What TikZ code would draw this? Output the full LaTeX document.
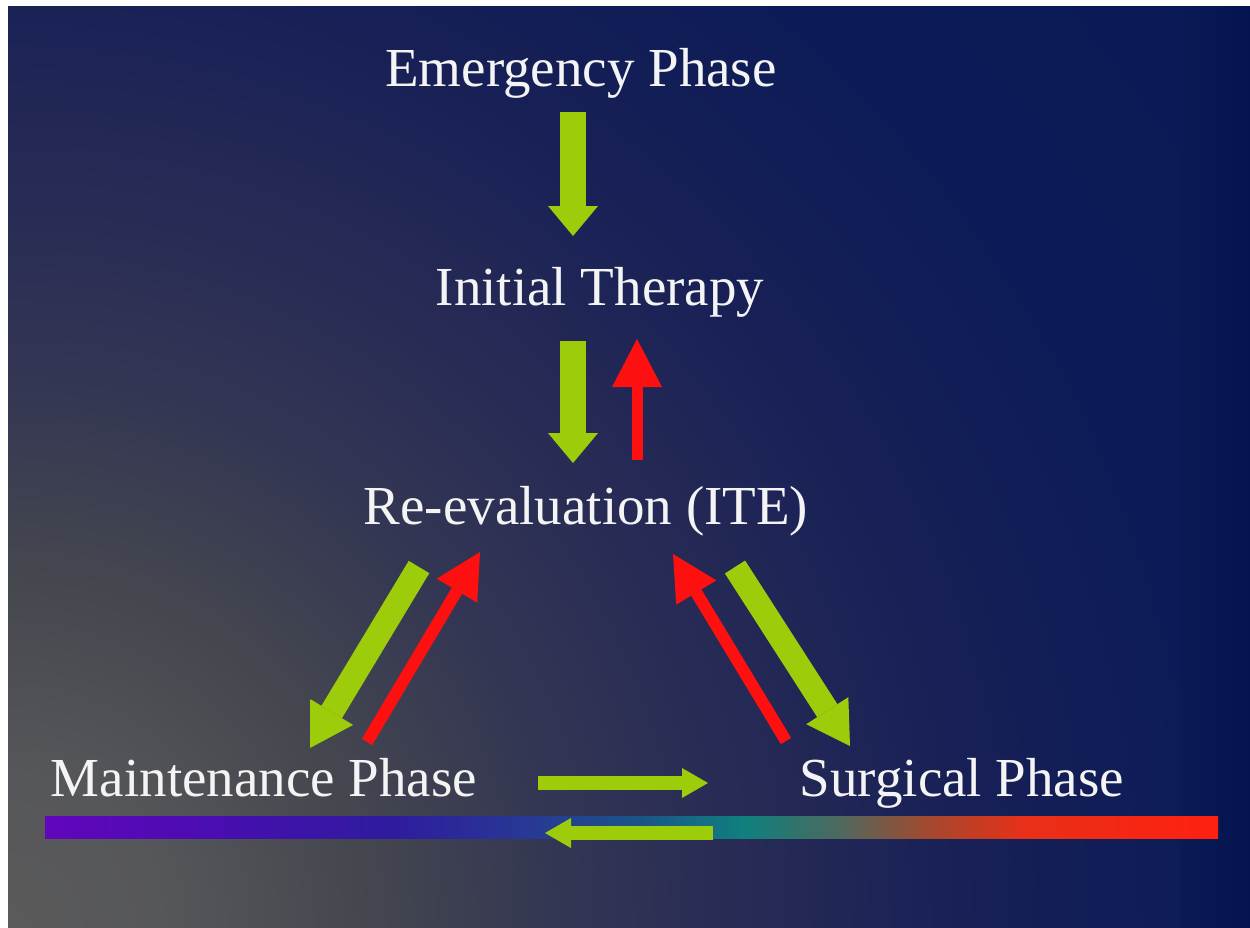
\documentclass[tikz,border=0pt]{standalone}
\usepackage{fontspec}
\setmainfont{Liberation Serif}
\usetikzlibrary{arrows.meta}

% palette
\definecolor{leaf}{HTML}{9DCD0A}
\definecolor{alert}{HTML}{FF1010}
\definecolor{ink}{HTML}{F4F4F4}
\definecolor{bg0}{HTML}{5A5A5A}
\definecolor{bg1}{HTML}{56575A}
\definecolor{bg2}{HTML}{45474F}
\definecolor{bg3}{HTML}{333653}
\definecolor{bg4}{HTML}{262A55}
\definecolor{bg5}{HTML}{182056}
\definecolor{bg6}{HTML}{0C1B57}
\definecolor{bg7}{HTML}{0A1A55}
\definecolor{bgedge}{HTML}{031450}
\definecolor{sp0}{HTML}{6206BC}
\definecolor{sp1}{HTML}{4C0CB2}
\definecolor{sp2}{HTML}{2E1C9E}
\definecolor{sp3}{HTML}{283894}
\definecolor{sp4}{HTML}{1A5688}
\definecolor{sp5}{HTML}{10807E}
\definecolor{sp6}{HTML}{4A6A60}
\definecolor{sp7}{HTML}{A04A30}
\definecolor{sp8}{HTML}{E83018}
\definecolor{sp9}{HTML}{FF2010}

% grey glow spreading from the lower left corner into navy
\pgfdeclareradialshading{backdrop}{\pgfpoint{0bp}{0bp}}{%
  color(0bp)=(bg0); color(150bp)=(bg1); color(350bp)=(bg2);
  color(550bp)=(bg3); color(750bp)=(bg4); color(950bp)=(bg5);
  color(1200bp)=(bg6); color(1600bp)=(bg7)}

\tikzset{
  phase/.style={text=ink, font=\fontsize{55}{60}\selectfont, inner sep=0pt, anchor=base},
  vgreen/.style={draw=leaf, line width=26pt,
    -{Triangle[width=50pt, length=30pt, line width=0pt]}},
  dgreen/.style={draw=leaf, line width=24pt,
    -{Triangle[width=50pt, length=42pt, line width=0pt]}},
  vred/.style={draw=alert, line width=11pt,
    -{Triangle[width=50pt, length=48pt, line width=0pt]}},
  dred/.style={draw=alert, line width=12pt,
    -{Triangle[width=47pt, length=45pt, line width=0pt]}},
  hgreen/.style={draw=leaf, line width=14pt,
    -{Triangle[width=30pt, length=26pt, line width=0pt]}},
  band/.style={draw=none}
}

\begin{document}
\begin{tikzpicture}[x=1pt, y=-1pt]
\useasboundingbox (0,0) rectangle (1250,927);
\fill[white] (0,0) rectangle (1250,927);

% backdrop
\begin{scope}
  \clip (8,6) rectangle (1250,927);
  \node[inner sep=0pt] (glow) at (8,927) {\pgfuseshading{backdrop}};
  \fill[left color=bg7, right color=bgedge] (1180,6) rectangle (1250,927);
\end{scope}

% spectrum band under the bottom row
\shade[band, left color=sp0, right color=sp1] (45,816) rectangle (195,838);
\shade[band, left color=sp1, right color=sp2] (194.5,816) rectangle (395,838);
\shade[band, left color=sp2, right color=sp3] (394.5,816) rectangle (525,838);
\shade[band, left color=sp3, right color=sp4] (524.5,816) rectangle (645,838);
\shade[band, left color=sp4, right color=sp5] (644.5,816) rectangle (745,838);
\shade[band, left color=sp5, right color=sp6] (744.5,816) rectangle (835,838);
\shade[band, left color=sp6, right color=sp7] (834.5,816) rectangle (925,838);
\shade[band, left color=sp7, right color=sp8] (924.5,816) rectangle (1025,838);
\shade[band, left color=sp8, right color=sp9] (1024.5,816) rectangle (1218,838);

% phases
\node[phase] (emerg)  at (581,86)  {Emergency Phase};
\node[phase] (init)   at (600,305) {Initial Therapy};
\node[phase] (reeval) at (586,524) {Re-evaluation (ITE)};
\node[phase] (maint)  at (264,796) {Maintenance Phase};
\node[phase] (surg)   at (962,796) {Surgical Phase};

% arrow end points
\coordinate (emergOut)  at (573,112);
\coordinate (initIn)    at (573,236);
\coordinate (initOut)   at (573,341);
\coordinate (reevalIn)  at (573,463);
\coordinate (reevalUp)  at (637,460);
\coordinate (initBack)  at (637,339);
\coordinate (reevalL)   at (419,567);
\coordinate (maintIn)   at (310,748);
\coordinate (maintUp)   at (367,742);
\coordinate (reevalLB)  at (480,552);
\coordinate (surgUp)    at (786,741);
\coordinate (reevalRB)  at (673,554);
\coordinate (reevalR)   at (735,567);
\coordinate (surgIn)    at (850,746);
\coordinate (maintR)    at (538,783);
\coordinate (surgL)     at (708,783);
\coordinate (surgLow)   at (713,833);
\coordinate (maintLow)  at (545,833);

% flow
\draw[vgreen] (emergOut) -- (initIn);
\draw[vgreen] (initOut) -- (reevalIn);
\draw[vred]   (reevalUp) -- (initBack);
\draw[dgreen] (reevalL) -- (maintIn);
\draw[dred]   (maintUp) -- (reevalLB);
\draw[dred]   (surgUp) -- (reevalRB);
\draw[dgreen] (reevalR) -- (surgIn);
\draw[hgreen] (maintR) -- (surgL);
\draw[hgreen] (surgLow) -- (maintLow);
\end{tikzpicture}
\end{document}
